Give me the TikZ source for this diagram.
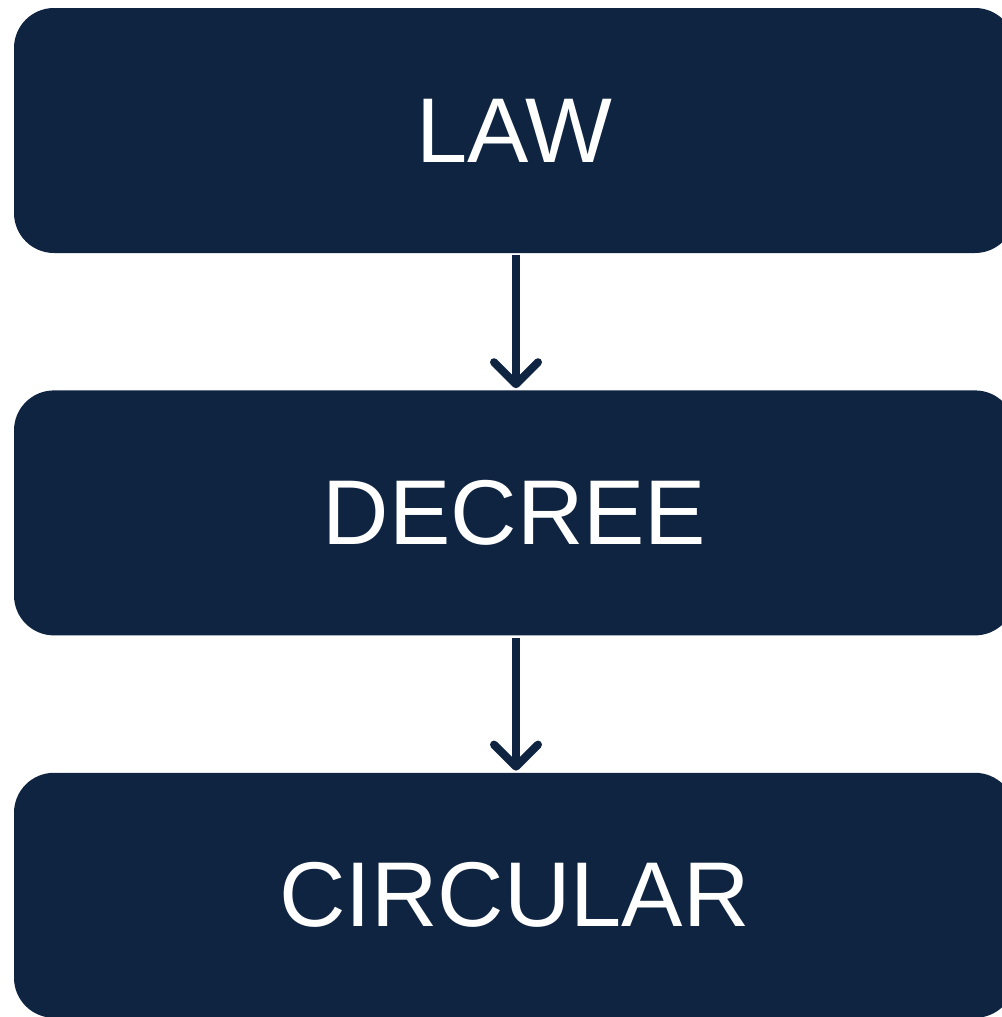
\documentclass[tikz,border=0pt]{standalone}
\usepackage{fontspec}
\setmainfont{Liberation Sans}
\usetikzlibrary{positioning,arrows.meta}
\definecolor{navy}{HTML}{0F2441}

\begin{document}
\begin{tikzpicture}
	[x=1pt, y=1pt,
	 level/.style={rectangle, rounded corners=40pt, fill=navy, text=white,
		minimum width=1001pt, minimum height=245pt, inner sep=0pt,
		font=\fontsize{92}{110}\selectfont},
	 link/.style={draw=navy, line width=8pt,
		-{Straight Barb[length=22pt, width=44pt, line cap=round, line join=round]}}]
	\useasboundingbox (0,0) rectangle (1001,-1017);
	\node[level] (law) at (514.5,-130.5) {LAW};
	\node[level, below=137pt of law] (decree) {DECREE};
	\node[level, below=137pt of decree] (circular) {CIRCULAR};
	\draw[link] ([xshift=1.5pt, yshift=-2pt]law.south) -- ([xshift=1.5pt, yshift=2pt]decree.north);
	\draw[link] ([xshift=1.5pt, yshift=-2pt]decree.south) -- ([xshift=1.5pt, yshift=2pt]circular.north);
\end{tikzpicture}
\end{document}
